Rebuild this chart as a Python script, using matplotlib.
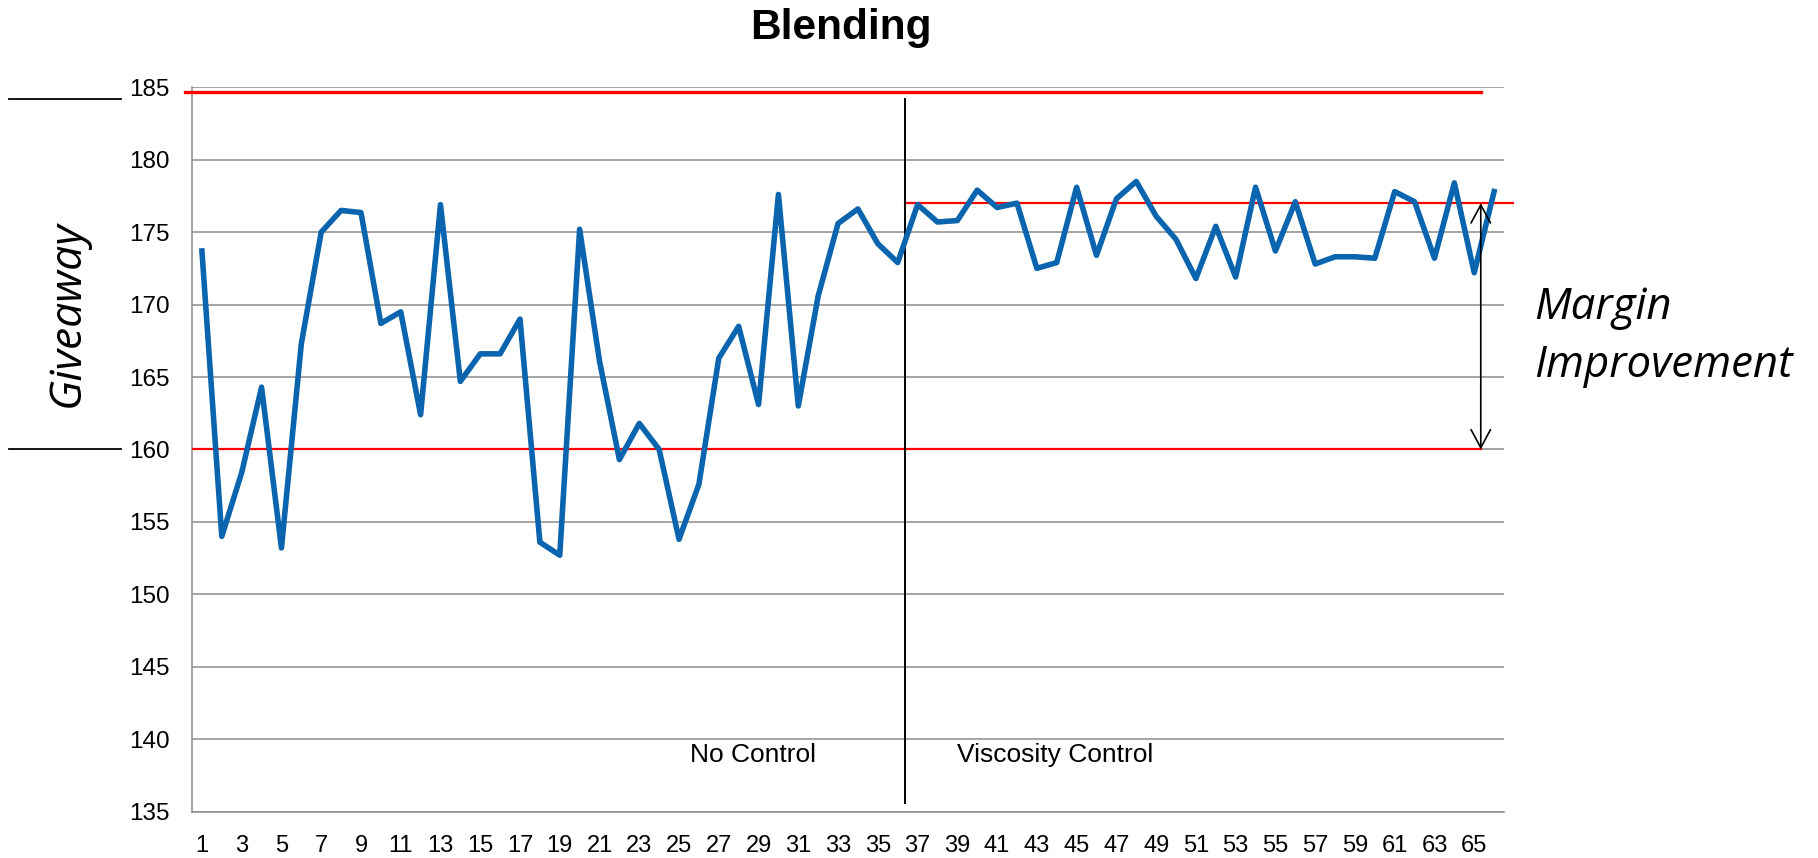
import matplotlib
matplotlib.use('Agg')
import matplotlib.pyplot as plt
from matplotlib.patches import FancyArrowPatch

# giveaway per batch, 1..66
batches = list(range(1, 67))
giveaway = [173.7, 154.0, 158.4, 164.3, 153.2, 167.3, 175.0, 176.5, 176.35, 168.7,
            169.5, 162.4, 176.9, 164.7, 166.6, 166.6, 169.0, 153.6, 152.7, 175.2,
            166.1, 159.3, 161.8, 160.0, 153.8, 157.6, 166.3, 168.5, 163.1, 177.6,
            163.0, 170.6, 175.6, 176.6, 174.2, 172.9, 176.9, 175.7, 175.8, 177.9,
            176.7, 177.0, 172.5, 172.9, 178.1, 173.4, 177.3, 178.5, 176.1, 174.5,
            171.8, 175.4, 171.9, 178.1, 173.7, 177.1, 172.8, 173.3, 173.3, 173.2,
            177.8, 177.1, 173.2, 178.4, 172.2, 177.8]

upper_limit = 184.7
lower_limit = 160.0
controlled_level = 177.0
switch_at = 36.37          # where viscosity control was switched on
y_ticks = list(range(135, 186, 5))
x_ticks = list(range(1, 66, 2))

plain = ['Liberation Sans', 'DejaVu Sans']
italic = ['Open Sans', 'DejaVu Sans']

fig = plt.figure(figsize=(18.18, 8.58), dpi=100)
ax = fig.add_axes([0.1056, 0.054, 0.7217, 0.8443])

ax.set_xlim(0.5, 66.5)
ax.set_ylim(135, 185)
ax.set_yticks(y_ticks)
ax.set_xticks(x_ticks)
ax.set_xticklabels([str(t) for t in x_ticks], family=plain, fontsize=17)
ax.set_yticklabels([str(t) for t in y_ticks], family=plain, fontsize=17.5)
ax.tick_params(axis='both', length=0)
ax.tick_params(axis='y', pad=16)
ax.tick_params(axis='x', pad=17)

ax.grid(axis='y', color='#8c8c8c', lw=1.1)
ax.set_axisbelow(True)
for side in ('top', 'right'):
    ax.spines[side].set_visible(False)
for side in ('left', 'bottom'):
    ax.spines[side].set_color('#8c8c8c')
    ax.spines[side].set_linewidth(1.1)

# limit lines
ax.plot([0.148, 65.34], [upper_limit, upper_limit], color='#ff0000', lw=2.4, clip_on=False, zorder=3)
ax.plot([0.5, 65.34], [lower_limit, lower_limit], color='#ff0000', lw=1.6, zorder=3)
ax.plot([switch_at, 66.95], [controlled_level, controlled_level], color='#ff0000', lw=1.6,
        clip_on=False, zorder=3)

# switch-over marker
ax.plot([switch_at, switch_at], [135.6, 184.17], color='black', lw=1.4, zorder=3)

ax.plot(batches, giveaway, color='#0a64ae', lw=4.0, zorder=4, solid_joinstyle='round')

# small marks left of the axis
ax.plot([-8.7, -3.07], [184.2, 184.2], color='black', lw=1.3, clip_on=False)
ax.plot([-8.7, -3.07], [lower_limit, lower_limit], color='black', lw=1.3, clip_on=False)

arrow = FancyArrowPatch((65.33, controlled_level), (65.33, lower_limit),
                        arrowstyle='<->,head_length=13,head_width=7', mutation_scale=1,
                        color='black', lw=1.2, shrinkA=0, shrinkB=0, zorder=5)
ax.add_patch(arrow)

ax.text(28.72, 138.45, 'No Control', ha='center', va='baseline', family=plain, fontsize=19)
ax.text(38.97, 138.45, 'Viscosity Control', ha='left', va='baseline', family=plain, fontsize=19)

ax.text(68.0, 168.99, 'Margin', ha='left', va='baseline', family=italic, style='italic', fontsize=31.5)
ax.text(68.0, 165.03, 'Improvement', ha='left', va='baseline', family=italic, style='italic', fontsize=31.5)

ax.text(-0.0949, 0.687, 'Giveaway', transform=ax.transAxes, rotation=90, ha='center', va='center',
        family=italic, style='italic', fontsize=32)

fig.text(841 / 1818, 1 - 39.3 / 858, 'Blending', ha='center', va='baseline',
         family=plain, fontweight='bold', fontsize=30.5)

fig.savefig('out.png', dpi=100)
